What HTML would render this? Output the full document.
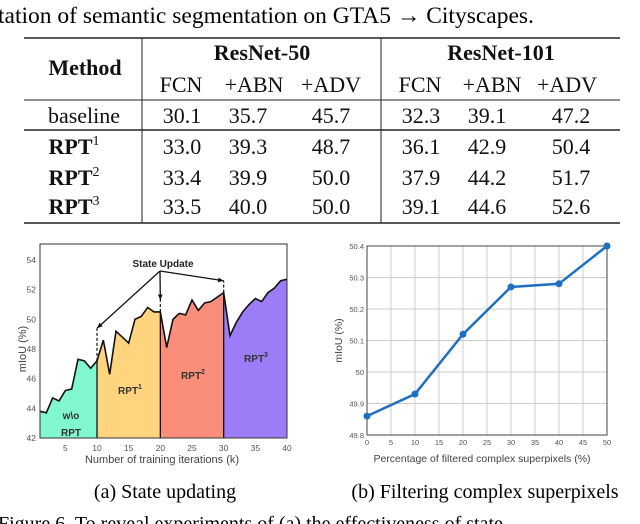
<!DOCTYPE html>
<html><head><meta charset="utf-8"><style>
body{margin:0;background:#fff;width:640px;height:524px;overflow:hidden;position:relative;font-family:"Liberation Serif",serif;}
svg{position:absolute;left:0;top:0}
</style></head><body>
<svg id="s" width="640" height="524" font-family="Liberation Serif, serif">
<text x="-2" y="23" font-size="23.5">tation of semantic segmentation on GTA5 → Cityscapes.</text>
<g stroke="#222">
<line x1="24" y1="38" x2="620" y2="38" stroke-width="1.5"/>
<line x1="24" y1="100" x2="620" y2="100" stroke-width="1"/>
<line x1="24" y1="130" x2="620" y2="130" stroke-width="1.5"/>
<line x1="24" y1="223" x2="620" y2="223" stroke-width="1.5"/>
<line x1="142" y1="38" x2="142" y2="223" stroke-width="1"/>
<line x1="381" y1="38" x2="381" y2="223" stroke-width="1"/>
</g>
<g font-size="22" text-anchor="middle" fill="#111">
<text x="85" y="75" font-weight="bold">Method</text>
<text x="262" y="60" font-weight="bold">ResNet-50</text>
<text x="501" y="60" font-weight="bold">ResNet-101</text>
<text x="181" y="92">FCN</text><text x="254" y="92">+ABN</text><text x="331" y="92">+ADV</text>
<text x="420" y="92">FCN</text><text x="492" y="92">+ABN</text><text x="567" y="92">+ADV</text>
<text x="84" y="123">baseline</text>
<text x="182" y="123">30.1</text><text x="248" y="123">35.7</text><text x="331" y="123">45.7</text>
<text x="421" y="123">32.3</text><text x="487" y="123">39.1</text><text x="571" y="123">47.2</text>
<text x="74" y="154" font-weight="bold">RPT<tspan font-size="14" font-weight="normal" dy="-9">1</tspan></text>
<text x="182" y="154">33.0</text><text x="248" y="154">39.3</text><text x="331" y="154">48.7</text>
<text x="421" y="154">36.1</text><text x="487" y="154">42.9</text><text x="571" y="154">50.4</text>
<text x="74" y="185" font-weight="bold">RPT<tspan font-size="14" font-weight="normal" dy="-9">2</tspan></text>
<text x="182" y="185">33.4</text><text x="248" y="185">39.9</text><text x="331" y="185">50.0</text>
<text x="421" y="185">37.9</text><text x="487" y="185">44.2</text><text x="571" y="185">51.7</text>
<text x="74" y="214" font-weight="bold">RPT<tspan font-size="14" font-weight="normal" dy="-9">3</tspan></text>
<text x="182" y="214">33.5</text><text x="248" y="214">40.0</text><text x="331" y="214">50.0</text>
<text x="421" y="214">39.1</text><text x="487" y="214">44.6</text><text x="571" y="214">52.6</text>
</g>
<g id="left" font-family="Liberation Sans, sans-serif"></g>
<g id="right" font-family="Liberation Sans, sans-serif"></g>
<text x="165" y="498" font-size="20" text-anchor="middle">(a)  State updating</text>
<text x="485" y="498" font-size="20" text-anchor="middle">(b)  Filtering complex superpixels</text>
<text x="-2" y="530" font-size="20">Figure 6. To reveal experiments of (a) the effectiveness of state</text>
</svg>
<script>
const leftIters=[1,2,3,4,5,6,7,8,9,10,11,12,13,15,16,17,18,19,20,21,22,23,24,25,26,27,28,30,31,32,33,34,35,36,37,38,39,40];
const leftMiou=[43.8,43.7,44.7,44.5,45.2,45.3,47.3,47.2,46.7,47.2,48.6,46.3,49.2,48.4,50.0,50.2,50.8,50.5,50.5,48.1,50.0,50.4,50.3,51.3,50.6,51.1,51.2,51.8,48.9,49.8,50.5,51.0,51.4,51.2,51.8,52.1,52.6,52.7];
const leftXTicks=[5,10,15,20,25,30,35,40];
const leftYTicks=[42,44,46,48,50,52,54];
const stageBounds=[1,10,20,30,40];
const stageColors=["#80F7CF","#FFD47E","#FA8E7B","#9C7CF7"];
const updateTargets=[49.4,51.3,52.6];
const rightPct=[0,10,20,30,40,50];
const rightMiou=[49.86,49.93,50.12,50.27,50.28,50.40];
const rightXTicks=[0,5,10,15,20,25,30,35,40,45,50];
const rightYTicks=[49.8,49.9,50,50.1,50.2,50.3,50.4];
const NS="http://www.w3.org/2000/svg";
function mk(p,tag,a,t){const e=document.createElementNS(NS,tag);for(const k in a)e.setAttribute(k,a[k]);if(t!==undefined)e.textContent=t;p.appendChild(e);return e;}
const L=document.getElementById('left');
const lx=v=>40+(v-1)*(247/39), ly=v=>438-(v-42)*(178/12);
function valAt(k){for(let i=0;i<leftIters.length;i++){if(leftIters[i]===k)return leftMiou[i];if(leftIters[i]>k){const a=i-1;const t=(k-leftIters[a])/(leftIters[i]-leftIters[a]);return leftMiou[a]+t*(leftMiou[i]-leftMiou[a]);}}return leftMiou[leftMiou.length-1];}
for(let s=0;s<4;s++){
 let d=`M${lx(stageBounds[s])},${ly(42)}`;
 leftIters.forEach((k,i)=>{if(k>=stageBounds[s]&&k<=stageBounds[s+1])d+=`L${lx(k)},${ly(leftMiou[i])}`;});
 d+=`L${lx(stageBounds[s+1])},${ly(42)}Z`;
 const p=mk(L,'path',{d:d,fill:stageColors[s]});
 
 
}
let ld='';leftIters.forEach((k,i)=>{ld+=(i?'L':'M')+lx(k)+','+ly(leftMiou[i]);});
const ll=mk(L,'path',{d:ld,fill:'none',stroke:'#111','stroke-width':1.6});


stageBounds.slice(1,4).forEach((b,i)=>{
 const sep=mk(L,'line',{x1:lx(b),x2:lx(b),y1:ly(42),y2:ly(valAt(b)),stroke:'#111','stroke-width':1.3});
 
 
 const dl=mk(L,'line',{x1:lx(b),x2:lx(b),y1:ly(valAt(b)),y2:ly(updateTargets[i]),stroke:'#111','stroke-width':1.2,'stroke-dasharray':'3,2'});
 
 
 const ox=160,oy=271,tx=lx(b),ty=ly(updateTargets[i]);
 const ar=mk(L,'line',{x1:ox,y1:oy,x2:tx,y2:ty,stroke:'#111','stroke-width':1.3});
 
 
 const ang=Math.atan2(ty-oy,tx-ox),h=6;
 const hd=mk(L,'path',{d:`M${tx},${ty}L${tx-h*Math.cos(ang-0.4)},${ty-h*Math.sin(ang-0.4)}L${tx-h*Math.cos(ang+0.4)},${ty-h*Math.sin(ang+0.4)}Z`,fill:'#111'});
 
 
});
mk(L,'rect',{x:40,y:244,width:247,height:194,fill:'none',stroke:'#333','stroke-width':1});
leftXTicks.forEach(v=>{const t=mk(L,'text',{x:lx(v),y:451,'font-size':8.5,fill:'#555','text-anchor':'middle'},v);});
leftYTicks.forEach(v=>{const t=mk(L,'text',{x:36,y:ly(v)+3,'font-size':8.5,fill:'#555','text-anchor':'end'},v);});
const lxt=mk(L,'text',{x:162,y:463,'font-size':11,fill:'#444','text-anchor':'middle'},'Number of training iterations (k)');

const lyt=mk(L,'text',{x:0,y:0,'font-size':11,fill:'#444','text-anchor':'middle',transform:`translate(26,${ly(48)}) rotate(-90)`},'mIoU (%)');

const su=mk(L,'text',{x:163,y:267,'font-size':10,'font-weight':'bold',fill:'#222','text-anchor':'middle'},'State Update');

const lab=(x,y,t,sup,n)=>{const e=mk(L,'text',{x:x,y:y,'font-size':10,'font-weight':'bold',fill:'#333','text-anchor':'middle'},t);if(sup){mk(e,'tspan',{'font-size':7,dy:-5},sup);}};
lab(71,419,'w\\o','','stage-label-wo');lab(71,436,'RPT','','stage-label-rpt');
lab(130,394,'RPT','1','stage-label-rpt1');lab(193,379,'RPT','2','stage-label-rpt2');lab(256,362,'RPT','3','stage-label-rpt3');
const R=document.getElementById('right');
const rx=v=>367+v*(240/50), ry=v=>435-(v-49.8)*(189/0.6);
rightXTicks.forEach(v=>{const g=mk(R,'line',{x1:rx(v),x2:rx(v),y1:246,y2:435,stroke:'#ccc','stroke-width':1});
 const t=mk(R,'text',{x:rx(v),y:445,'font-size':7.5,fill:'#555','text-anchor':'middle'},v);});
rightYTicks.forEach(v=>{const g=mk(R,'line',{x1:367,x2:607,y1:ry(v),y2:ry(v),stroke:'#ccc','stroke-width':1});
 const t=mk(R,'text',{x:364,y:ry(v)+3,'font-size':7.5,fill:'#555','text-anchor':'end'},v);});
mk(R,'rect',{x:367,y:246,width:240,height:189,fill:'none',stroke:'#444','stroke-width':1});
let rd='';rightPct.forEach((p,i)=>{rd+=(i?'L':'M')+rx(p)+','+ry(rightMiou[i]);});
const rl=mk(R,'path',{d:rd,fill:'none',stroke:'#1F6FC0','stroke-width':2.5});

rightPct.forEach((p,i)=>{const c=mk(R,'circle',{cx:rx(p),cy:ry(rightMiou[i]),r:3.5,fill:'#1F6FC0'});});
const rxt=mk(R,'text',{x:482,y:462,'font-size':10.5,fill:'#444','text-anchor':'middle'},'Percentage of filtered complex superpixels (%)');

const ryt=mk(R,'text',{x:0,y:0,'font-size':10.5,fill:'#444','text-anchor':'middle',transform:`translate(342,${ry(50.1)}) rotate(-90)`},'mIoU (%)');

</script>
</body></html>
